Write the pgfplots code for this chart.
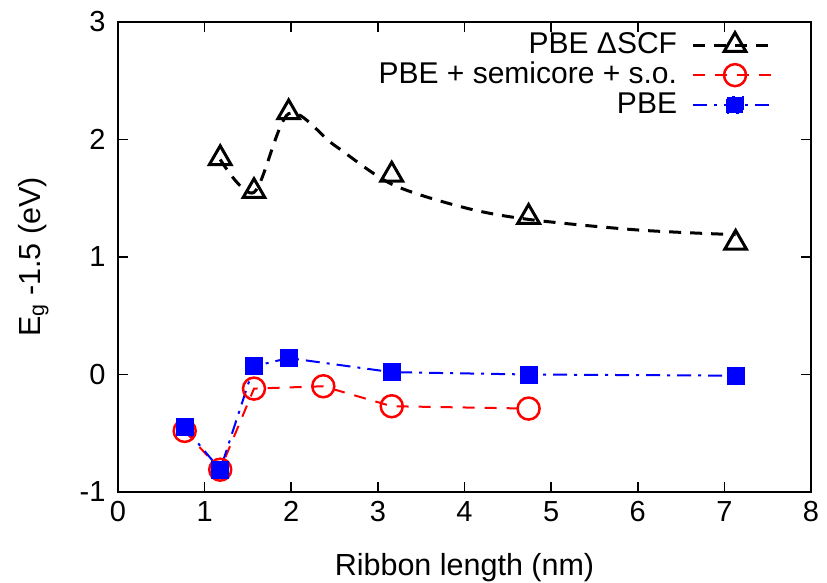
\documentclass[border=0pt]{standalone}
\usepackage{pgfplots}
\pgfplotsset{compat=1.18}
\usepackage{fontspec}
\setmainfont{Liberation Sans}
\begin{document}
\begin{tikzpicture}
\begin{axis}[
  scale only axis, width=693pt, height=470pt,
  xmin=0, xmax=8, ymin=-1, ymax=3,
  xtick={0,...,8}, ytick={-1,0,1,2,3},
  tick align=inside, major tick length=10pt,
  axis line style={line width=2.5pt}, tick style={line width=1.5pt, black},
  /pgf/number format/assume math mode=true,
  tick label style={font=\fontsize{29}{32}\selectfont},
  xticklabel style={yshift=-6pt},
  yticklabel style={xshift=-9pt},
  label style={font=\fontsize{30.5}{34}\selectfont},
  xlabel={Ribbon length (nm)}, ylabel={E\textsubscript{g} -1.5 (eV)},
  xlabel style={at={(axis description cs:0.5,0)}, anchor=north, yshift=-58pt},
  ylabel style={at={(axis description cs:0,0.5)}, anchor=south, yshift=66pt},
  legend style={draw=none, fill=none, inner sep=0pt, at={(0.952,0.981)}, anchor=north east,
    font=\fontsize{30}{34}\selectfont, row sep=2pt,
    nodes={inner sep=0pt, text height=22pt, text depth=6pt}},
  legend cell align=right, legend plot pos=right,
]
% smooth curve (fit) for PBE DeltaSCF
\addplot[black, line width=3pt, dash pattern=on 12pt off 9pt, smooth, tension=0.5, mark=none, forget plot]
  coordinates {(1.18,1.83)(1.57,1.55)(1.97,2.22)(2.5,1.95)(3.16,1.62)(4.0,1.42)(4.74,1.32)(6.0,1.23)(7.13,1.19)};
\addplot[black, only marks, mark=triangle, mark size=12.5pt, mark options={line width=3pt, solid},
  legend image code/.code={
    \path (0pt,0pt);
    \draw[black, line width=3pt, dash pattern=on 12pt off 9pt] (15pt,0pt) -- (98pt,0pt);
    \draw[black, line width=3pt, solid] plot[mark=triangle, mark size=12.5pt] coordinates {(57pt,0pt)};}]
  coordinates {(1.18,1.84)(1.57,1.56)(1.97,2.23)(3.16,1.70)(4.74,1.34)(7.13,1.12)};
\addlegendentry{PBE ΔSCF}
\addplot[red, line width=2pt, dash pattern=on 12pt off 10pt, mark=o, mark size=11pt, mark options={line width=2.5pt, solid},
  legend image code/.code={
    \path (0pt,0pt);
    \draw[red, line width=2pt, dash pattern=on 12pt off 10pt] (15pt,0pt) -- (98pt,0pt);
    \draw[red, line width=2.5pt, solid] plot[mark=o, mark size=11pt] coordinates {(57pt,0pt)};}]
  coordinates {(0.77,-0.48)(1.18,-0.81)(1.57,-0.12)(2.37,-0.10)(3.16,-0.27)(4.74,-0.29)};
\addlegendentry{PBE + semicore + s.o.}
\addplot[blue, line width=2pt, dash pattern=on 14pt off 7pt on 3pt off 7pt, mark=square*, mark size=8pt, mark options={solid},
  legend image code/.code={
    \path (0pt,0pt);
    \draw[blue, line width=2pt, dash pattern=on 14pt off 7pt on 3pt off 7pt] (15pt,0pt) -- (98pt,0pt);
    \fill[blue] (49pt,-8pt) rectangle (65pt,8pt);}]
  coordinates {(0.77,-0.45)(1.18,-0.81)(1.57,0.07)(1.97,0.14)(3.16,0.02)(4.74,0.00)(7.13,-0.01)};
\addlegendentry{PBE}
\end{axis}
\pgfresetboundingbox
\path (-118pt,-90pt) rectangle (709pt,492pt);
\end{tikzpicture}
\end{document}
